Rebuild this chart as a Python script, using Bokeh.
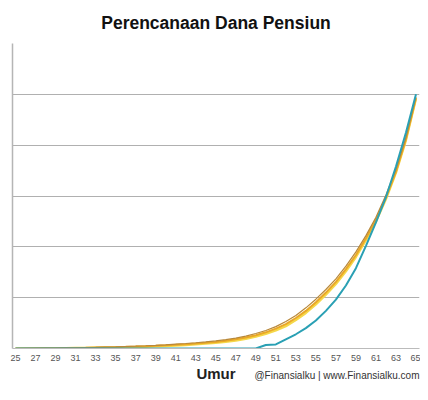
from bokeh.plotting import figure
from bokeh.models import Range1d, FixedTicker, Title
from bokeh.embed import file_html
from bokeh.resources import INLINE

# Data (values in gridline units)
umur = list(range(25, 66))

brown = [0.000, 0.002, 0.004, 0.006, 0.009, 0.012, 0.015, 0.019, 0.023, 0.028,
         0.033, 0.039, 0.046, 0.054, 0.063, 0.073, 0.085, 0.098, 0.113, 0.130,
         0.150, 0.175, 0.205, 0.245, 0.295, 0.355, 0.43, 0.53, 0.65, 0.80,
         0.97, 1.16, 1.37, 1.62, 1.90, 2.22, 2.58, 3.02, 3.52, 4.15, 4.95]

orange = [0.000, 0.001, 0.003, 0.005, 0.007, 0.010, 0.012, 0.015, 0.019, 0.023,
          0.027, 0.032, 0.038, 0.045, 0.053, 0.062, 0.072, 0.084, 0.097, 0.112,
          0.130, 0.152, 0.180, 0.216, 0.262, 0.318, 0.39, 0.48, 0.60, 0.74,
          0.91, 1.10, 1.31, 1.56, 1.84, 2.17, 2.53, 2.97, 3.48, 4.12, 4.93]

yellow = [0.000, 0.001, 0.002, 0.004, 0.005, 0.007, 0.009, 0.011, 0.014, 0.017,
          0.020, 0.024, 0.029, 0.035, 0.042, 0.050, 0.059, 0.070, 0.082, 0.096,
          0.113, 0.133, 0.158, 0.190, 0.233, 0.286, 0.355, 0.44, 0.56, 0.70,
          0.87, 1.06, 1.27, 1.52, 1.80, 2.13, 2.50, 2.94, 3.46, 4.10, 4.92]

teal = [0, 0, 0, 0, 0, 0, 0, 0, 0, 0,
        0, 0, 0, 0, 0, 0, 0, 0, 0, 0,
        0, 0, 0, 0, 0, 0.07, 0.08, 0.18, 0.28, 0.40,
        0.55, 0.74, 0.96, 1.24, 1.58, 2.02, 2.48, 2.98, 3.58, 4.25, 5.0]

x_ticks = list(range(25, 66, 2))
y_ticks = [0, 1, 2, 3, 4, 5, 6]

title_text = "Perencanaan Dana Pensiun"
x_label = "Umur"
credit = "@Finansialku | www.Finansialku.com"

FONT = "Liberation Sans"

p = figure(width=420, height=384, output_backend="svg", toolbar_location=None,
           x_range=Range1d(24.70, 65.35), y_range=Range1d(0, 6),
           min_border_left=12, min_border_right=1, min_border_top=39, min_border_bottom=36,
           title=title_text)

p.title.text_font = FONT
p.title.text_font_size = "17.5px"
p.title.text_font_style = "bold"
p.title.text_color = "#111111"
p.title.align = "center"
p.title.standoff = 21

p.outline_line_color = None
p.background_fill_color = "white"
p.border_fill_color = "white"

# x axis
p.xaxis.ticker = FixedTicker(ticks=x_ticks)
p.xaxis.major_label_text_font = FONT
p.xaxis.major_label_text_font_size = "9px"
p.xaxis.major_label_text_color = "#555555"
p.xaxis.major_tick_line_color = None
p.xaxis.major_tick_out = 0
p.xaxis.minor_tick_line_color = None
p.xaxis.minor_tick_out = 0
p.xaxis.axis_line_color = "#bbbbbb"
p.xaxis.major_label_standoff = 6
p.xaxis.axis_label = x_label
p.xaxis.axis_label_text_font = FONT
p.xaxis.axis_label_text_font_size = "15px"
p.xaxis.axis_label_text_font_style = "bold"
p.xaxis.axis_label_text_color = "#222222"
p.xaxis.axis_label_standoff = 1

# credit line, right-aligned on the same row as "Umur"
credit_title = Title(text=credit, align="right", vertical_align="top",
                     text_font=FONT, text_font_size="10px",
                     text_font_style="normal", text_color="#333333", standoff=-30)
p.add_layout(credit_title, "below")

# y axis: only its line is visible (labels are cut off in the reference)
p.yaxis.ticker = FixedTicker(ticks=[])
p.yaxis.major_tick_line_color = None
p.yaxis.minor_tick_line_color = None
p.yaxis.major_tick_out = 0
p.yaxis.axis_line_color = "#b5b5b5"
p.yaxis.axis_line_width = 1.5

p.xgrid.grid_line_color = None
p.ygrid.ticker = FixedTicker(ticks=y_ticks)
p.ygrid.grid_line_color = "#b0b0b0"
p.ygrid.grid_line_width = 1.2

p.line(umur, yellow, line_color="#f5d84a", line_width=2.4)
p.line(umur, orange, line_color="#eaa826", line_width=2)
p.line(umur, brown, line_color="#b8883a", line_width=1.2)
p.line(umur, teal, line_color="#2aa0b4", line_width=2)

open("out.html", "w").write(file_html(p, INLINE))
